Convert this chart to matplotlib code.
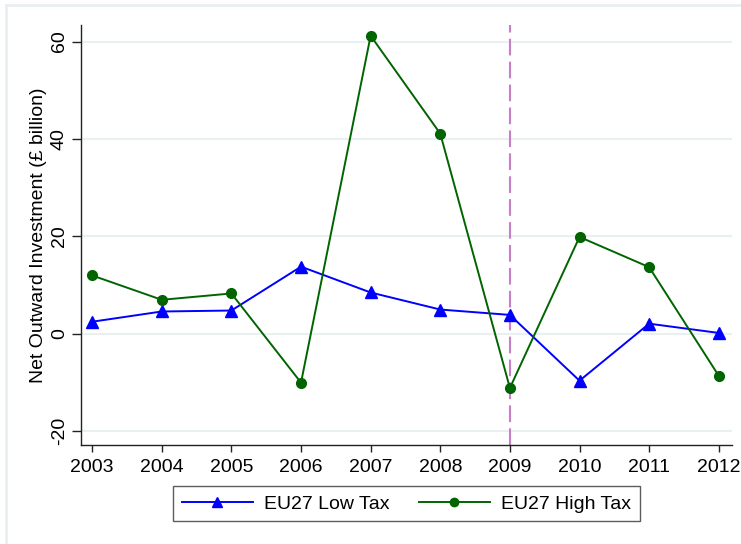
import matplotlib
matplotlib.use("Agg")
import matplotlib.pyplot as plt
from matplotlib.patches import Rectangle
from matplotlib.lines import Line2D

plt.rcParams['font.family'] = ['Liberation Sans', 'DejaVu Sans']

years = [2003, 2004, 2005, 2006, 2007, 2008, 2009, 2010, 2011, 2012]
low_tax = [2.5, 4.6, 4.8, 13.8, 8.5, 5.0, 3.9, -9.6, 2.1, 0.2]
high_tax = [12.0, 7.0, 8.3, -10.0, 61.2, 41.1, -11.1, 19.9, 13.7, -8.6]
y_ticks = [-20, 0, 20, 40, 60]
break_year = 2009

W, H = 741, 544
fig = plt.figure(figsize=(W / 100, H / 100), dpi=100)
fig.patch.set_facecolor('white')

# light outer frame around the graph region
fig.patches.append(Rectangle((6 / W, -0.1), 1.2, 1 - 5 / H + 0.1,
                             transform=fig.transFigure, fill=False,
                             edgecolor='#e9eff1', linewidth=2, zorder=0))

ax = fig.add_axes([81 / W, 1 - 445 / H, (732 - 81) / W, (445 - 25) / H])

for y in y_ticks:
    ax.axhline(y, color='#e9f0f2', linewidth=1.5, zorder=0)

ax.axvline(break_year, color='#c67fc8', linewidth=1.5,
           dashes=(8, 3), zorder=1)

ax.plot(years, low_tax, color='#0000ff', linewidth=1.4, marker='^',
        markersize=8, label='EU27 Low Tax', zorder=3)
ax.plot(years, high_tax, color='#006400', linewidth=1.4, marker='o',
        markersize=7, label='EU27 High Tax', zorder=3)

ax.set_xlim(2002.84, 2012.19)
ax.set_ylim(-22.8, 63.4)
ax.set_xticks(years)
ax.set_yticks(y_ticks)
ax.set_yticklabels([str(v) for v in y_ticks], rotation=90, va='center')

for side in ['top', 'right']:
    ax.spines[side].set_visible(False)
for side in ['left', 'bottom']:
    ax.spines[side].set_color('#222222')
    ax.spines[side].set_linewidth(1.0)
ax.tick_params(direction='out', width=1, labelsize=14, color='#222222')
ax.tick_params(axis='x', length=5, pad=5)
ax.tick_params(axis='y', length=6.5, pad=3)

ax.set_ylabel('Net Outward Investment (£ billion)', fontsize=14)
ax.yaxis.set_label_coords(-0.052, 0.5)

handles = [Line2D([], [], color='#0000ff', linewidth=1.4, marker='^', markersize=7),
           Line2D([], [], color='#006400', linewidth=1.4, marker='o', markersize=6)]
leg = ax.legend(handles, ['EU27 Low Tax', 'EU27 High Tax'],
                loc='upper center', bbox_to_anchor=(0.5, -0.098), ncol=2,
                borderaxespad=0, fontsize=14, frameon=True, fancybox=False,
                handlelength=3.65, handletextpad=0.6, columnspacing=1.5,
                borderpad=0.45, edgecolor='#333333')
leg.get_frame().set_linewidth(1.0)

fig.savefig('out.png', dpi=100)
